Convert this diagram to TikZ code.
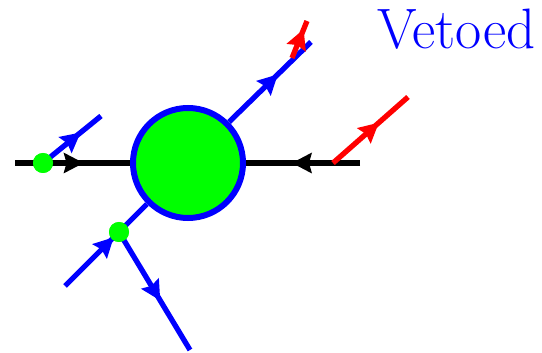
\documentclass[tikz,border=0pt]{standalone}
\usetikzlibrary{decorations.markings}
\definecolor{pblue}{RGB}{0,0,255}
\definecolor{pgreen}{RGB}{0,255,0}
\definecolor{pred}{RGB}{255,0,0}
\begin{document}
\begin{tikzpicture}[x=1pt,y=1pt,
  midarrow/.style={postaction={decorate},decoration={markings,
    mark=at position 0.5 with {\fill (11pt,0pt) -- (-9pt,10.5pt) -- (-6pt,0pt) -- (-9pt,-10.5pt) -- cycle;}}},
  leg/.style={line width=5.3pt,midarrow},
  dotnode/.style={circle,fill=pgreen,minimum size=20pt,inner sep=0pt},
  blob/.style={circle,draw=pblue,fill=pgreen,line width=6pt,minimum size=110pt,inner sep=0pt}]
\useasboundingbox (0,-353) rectangle (542,0);
\coordinate (L) at (15,-163);
\coordinate (R) at (360,-163);
\coordinate (UB) at (311,-42);
\coordinate (RS) at (292,-58);
\coordinate (RE) at (307,-21);
\coordinate (LRS) at (333,-163);
\coordinate (LRE) at (408,-97);
\coordinate (LLE) at (65,-286);
\coordinate (DE) at (190,-350);
\coordinate (LUE) at (101,-116);
\node[blob] (C) at (188,-163) {};
\draw[leg,black] (L) -- (C.west);
\draw[leg,black] (R) -- (C.east);
\draw[leg,pblue] (C.45) -- (UB);
\draw[leg,pred] (RS) -- (RE);
\draw[leg,pred] (LRS) -- (LRE);
\draw[leg,pblue] (LLE) -- (C.225);
\node[dotnode] (D2) at (119,-232) {};
\draw[leg,pblue] (D2.center) -- (DE);
\node[dotnode] (D1) at (43,-163) {};
\draw[leg,pblue] (D1.center) -- (LUE);
\node[dotnode] at (119,-232) {};
\node[dotnode] at (43,-163) {};
\node[anchor=base west,inner sep=0pt,text=pblue,font=\fontsize{57}{66}\selectfont] (T) at (377,-49) {Vetoed};
\end{tikzpicture}
\end{document}
